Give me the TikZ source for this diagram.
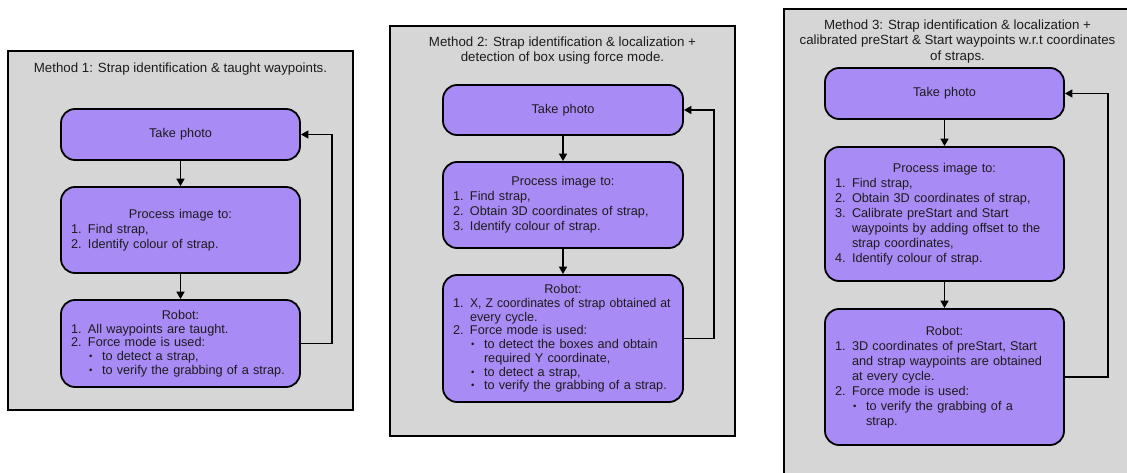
\documentclass[tikz,border=0pt]{standalone}
\usepackage{fontspec}
\usepackage{graphicx}
\setmainfont{Liberation Sans}
\usetikzlibrary{arrows.meta}

\definecolor{panelgray}{HTML}{D6D6D6}
\definecolor{boxpurple}{HTML}{A88BF5}
\definecolor{ink}{HTML}{1C1C1C}

% centred heading line inside a box
\newcommand{\headline}[1]{{\centering #1\par}}
% numbered list entry with hanging indent
\newcommand{\numitem}[2]{{\raggedright\hangindent=17pt\hangafter=1\noindent\makebox[17pt][l]{#1}#2\par}}
% bulleted sub-entry
\newcommand{\bulitem}[1]{{\raggedright\hangindent=31pt\hangafter=1\noindent\hspace*{18pt}\makebox[13pt][l]{\raisebox{0.8pt}{\scalebox{0.75}{•}}}#1\par}}

\tikzset{
  panel/.style={draw=black, line width=1.6pt, fill=panelgray},
  stepbox/.style={draw=black, line width=1.8pt, fill=boxpurple, rounded corners=14pt,
    text=ink, inner xsep=10pt, inner ysep=0pt, font=\fontsize{12.7}{15}\selectfont},
  tight/.style={font=\fontsize{12.7}{13.7}\selectfont},
  flow/.style={draw=black, line width=1.6pt, -{Triangle[length=7.5pt,width=8pt]}},
  feedback/.style={flow, line width=1.5pt},
  paneltitle/.style={text=ink, align=center, inner sep=0pt, font=\fontsize{13.3}{15.5}\selectfont}
}

\begin{document}
\begin{tikzpicture}[x=1pt,y=-1pt]
\useasboundingbox (0,0) rectangle (1127,473);
\fill[white] (0,0) rectangle (1127,473);

% ---------- Method 1 ----------
\draw[panel] (8,51) rectangle (353,410);
\node[paneltitle] (t1) at (180.5,69) {Method 1: Strap identification \& taught waypoints.};
\node[stepbox, text width=219pt, minimum height=51pt] (a1) at (180.5,134.5)
  {\headline{Take photo}};
\node[stepbox, text width=219pt, minimum height=86pt] (b1) at (180.5,230)
  {\headline{Process image to:}
   \numitem{1.}{Find strap,}
   \numitem{2.}{Identify colour of strap.}};
\node[stepbox, tight, text width=219pt, minimum height=87pt] (c1) at (180.5,343.5)
  {\headline{Robot:}
   \numitem{1.}{All waypoints are taught.}
   \numitem{2.}{Force mode is used:}
   \bulitem{to detect a strap,}
   \bulitem{to verify the grabbing of a strap.}};
\coordinate (f1) at (332,0);
\draw[flow] (a1) -- (b1);
\draw[flow] (b1) -- (c1);
\draw[feedback] (c1.east) -- (c1.east -| f1) |- (a1.east);

% ---------- Method 2 ----------
\draw[panel] (390,26) rectangle (735,436);
\node[paneltitle] (t2) at (562.5,50.5) {Method 2: Strap identification \& localization +\\detection of box using force mode.};
\node[stepbox, text width=220pt, minimum height=50pt] (a2) at (563,110)
  {\headline{Take photo}};
\node[stepbox, text width=220pt, minimum height=86pt] (b2) at (563,205)
  {\headline{Process image to:}
   \numitem{1.}{Find strap,}
   \numitem{2.}{Obtain 3D coordinates of strap,}
   \numitem{3.}{Identify colour of strap.}};
\node[stepbox, tight, text width=220pt, minimum height=127pt] (c2) at (563,338.5)
  {\headline{Robot:}
   \numitem{1.}{\scalebox{0.96}[1]{X, Z coordinates of strap obtained at}\newline every cycle.}
   \numitem{2.}{Force mode is used:}
   \bulitem{to detect the boxes and obtain\newline required Y coordinate,}
   \bulitem{to detect a strap,}
   \bulitem{to verify the grabbing of a strap.}};
\coordinate (f2) at (714,0);
\draw[flow] (a2) -- (b2);
\draw[flow] (b2) -- (c2);
\draw[feedback] (c2.east) -- (c2.east -| f2) |- (a2.east);

% ---------- Method 3 ----------
\draw[panel] (784,9) rectangle (1131,480);
\node[paneltitle] (t3) at (957.5,41.5) {Method 3: Strap identification \& localization +\\calibrated preStart \& Start waypoints w.r.t coordinates\\of straps.};
\node[stepbox, text width=219pt, minimum height=51pt] (a3) at (944.5,93.5)
  {\headline{Take photo}};
\node[stepbox, text width=219pt, minimum height=134pt] (b3) at (944.5,214)
  {\headline{Process image to:}
   \numitem{1.}{Find strap,}
   \numitem{2.}{Obtain 3D coordinates of strap,}
   \numitem{3.}{Calibrate preStart and Start\newline waypoints by adding offset to the\newline strap coordinates,}
   \numitem{4.}{Identify colour of strap.}};
\node[stepbox, text width=219pt, minimum height=136pt] (c3) at (944.5,377)
  {\headline{Robot:}
   \numitem{1.}{3D coordinates of preStart, Start\newline and strap waypoints are obtained\newline at every cycle.}
   \numitem{2.}{Force mode is used:}
   \bulitem{to verify the grabbing of a\newline strap.}};
\coordinate (f3) at (1108,0);
\draw[flow] (a3) -- (b3);
\draw[flow] (b3) -- (c3);
\draw[feedback] (c3.east) -- (c3.east -| f3) |- (a3.east);
\end{tikzpicture}
\end{document}
